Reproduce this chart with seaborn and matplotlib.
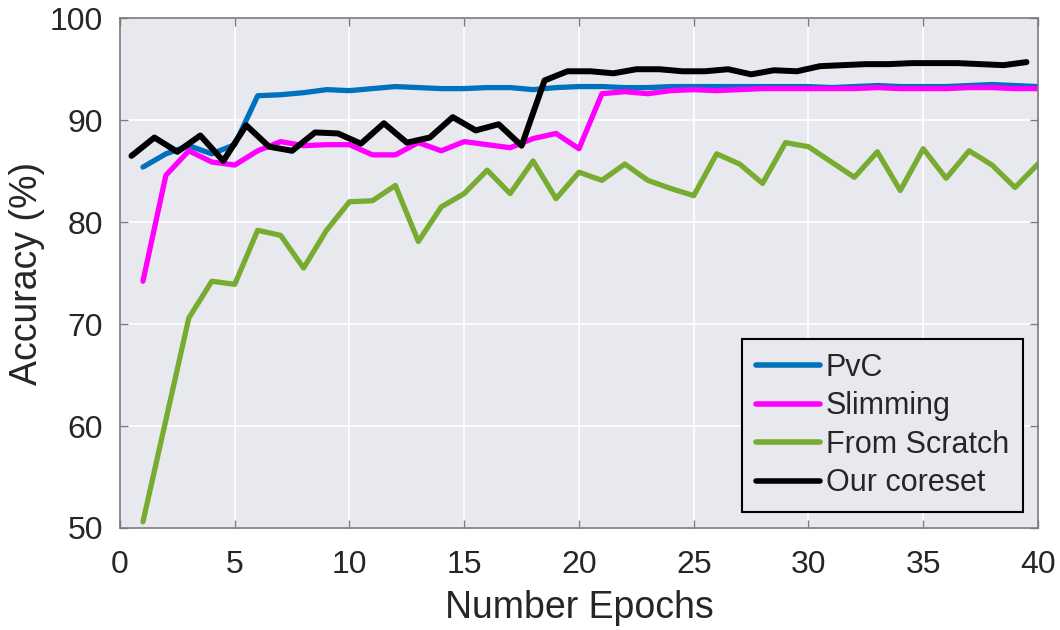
import numpy as np
import pandas as pd
import matplotlib
matplotlib.use("Agg")
import matplotlib.pyplot as plt
import seaborn as sns

# Accuracy per epoch for each training scheme
epochs = list(range(1, 41))
pvc = [85.4, 86.7, 87.5, 86.7, 87.6, 92.4, 92.5, 92.7, 93.0, 92.9,
       93.1, 93.3, 93.2, 93.1, 93.1, 93.2, 93.2, 93.0, 93.2, 93.3,
       93.3, 93.2, 93.2, 93.3, 93.3, 93.3, 93.3, 93.3, 93.3, 93.3,
       93.2, 93.3, 93.4, 93.3, 93.3, 93.3, 93.4, 93.5, 93.4, 93.3]
slimming = [74.2, 84.6, 87.0, 85.9, 85.6, 87.0, 87.9, 87.5, 87.6, 87.6,
            86.6, 86.6, 87.8, 87.0, 87.9, 87.6, 87.3, 88.2, 88.7, 87.2,
            92.6, 92.8, 92.6, 92.9, 93.0, 92.9, 93.0, 93.1, 93.1, 93.1,
            93.1, 93.1, 93.2, 93.1, 93.1, 93.1, 93.2, 93.2, 93.1, 93.1]
scratch = [50.6, 60.6, 70.6, 74.2, 73.9, 79.2, 78.7, 75.5, 79.2, 82.0,
           82.1, 83.6, 78.1, 81.5, 82.8, 85.1, 82.8, 86.0, 82.3, 84.9,
           84.1, 85.7, 84.1, 83.3, 82.6, 86.7, 85.7, 83.8, 87.8, 87.4,
           85.9, 84.4, 86.9, 83.1, 87.2, 84.3, 87.0, 85.6, 83.4, 85.7]
coreset_epochs = [e - 0.5 for e in range(1, 41)]
coreset = [86.5, 88.3, 86.9, 88.5, 86.0, 89.5, 87.4, 87.0, 88.8, 88.7,
           87.7, 89.7, 87.8, 88.3, 90.3, 89.0, 89.6, 87.5, 93.9, 94.8,
           94.8, 94.6, 95.0, 95.0, 94.8, 94.8, 95.0, 94.5, 94.9, 94.8,
           95.3, 95.4, 95.5, 95.5, 95.6, 95.6, 95.6, 95.5, 95.4, 95.7]

methods = ["PvC", "Slimming", "From Scratch", "Our coreset"]
colors = ["#0072BD", "#FF00FF", "#77AC30", "#000000"]
x_ticks = [0, 5, 10, 15, 20, 25, 30, 35, 40]
y_ticks = [50, 60, 70, 80, 90, 100]

frames = [
    pd.DataFrame({"epoch": epochs, "acc": pvc, "method": methods[0]}),
    pd.DataFrame({"epoch": epochs, "acc": slimming, "method": methods[1]}),
    pd.DataFrame({"epoch": epochs, "acc": scratch, "method": methods[2]}),
    pd.DataFrame({"epoch": coreset_epochs, "acc": coreset, "method": methods[3]}),
]
df = pd.concat(frames, ignore_index=True)

sns.set_theme(style="darkgrid", rc={
    "axes.facecolor": "#E7E9EF",
    "grid.color": "white",
    "grid.linewidth": 1.2,
})
plt.rcParams["font.family"] = ["Liberation Sans", "DejaVu Sans"]

fig = plt.figure(figsize=(10.6, 6.3), dpi=100)
ax = fig.add_axes([0.1132, 0.162, 0.8660, 0.809])

sns.lineplot(data=df, x="epoch", y="acc", hue="method", hue_order=methods,
             palette=dict(zip(methods, colors)), linewidth=3.8, ax=ax,
             legend=False)
ax.get_lines()[-1].set_linewidth(4.3)

ax.set_xlim(0, 40)
ax.set_ylim(50, 100)
ax.set_xticks(x_ticks)
ax.set_yticks(y_ticks)
ax.tick_params(axis="both", which="both", direction="in", length=6,
               width=1, color="#7a7a7a", labelsize=23, labelcolor="#262626",
               top=True, right=True, bottom=True, left=True)
ax.tick_params(axis="x", pad=16)
ax.tick_params(axis="y", pad=12)
for sp in ax.spines.values():
    sp.set_visible(True)
    sp.set_color("#7a7a7a")
    sp.set_linewidth(1.2)

ax.set_xlabel("Number Epochs", fontsize=27, color="#262626", labelpad=7)
ax.set_ylabel("Accuracy (%)", fontsize=27, color="#262626", labelpad=4)

handles = [plt.Line2D([], [], color=c, linewidth=4) for c in colors]
leg = ax.legend(handles, methods, loc="lower right",
                bbox_to_anchor=(0.9837, 0.031), fontsize=22,
                frameon=True, fancybox=False, handlelength=2.1,
                handletextpad=0.2, labelspacing=0.28, borderpad=0.45,
                borderaxespad=0)
leg.get_frame().set_edgecolor("black")
leg.get_frame().set_linewidth(1.5)
leg.get_frame().set_facecolor("#E7E9EF")
leg.get_frame().set_alpha(1.0)
for t in leg.get_texts():
    t.set_color("#262626")

fig.savefig("out.png", dpi=100)
